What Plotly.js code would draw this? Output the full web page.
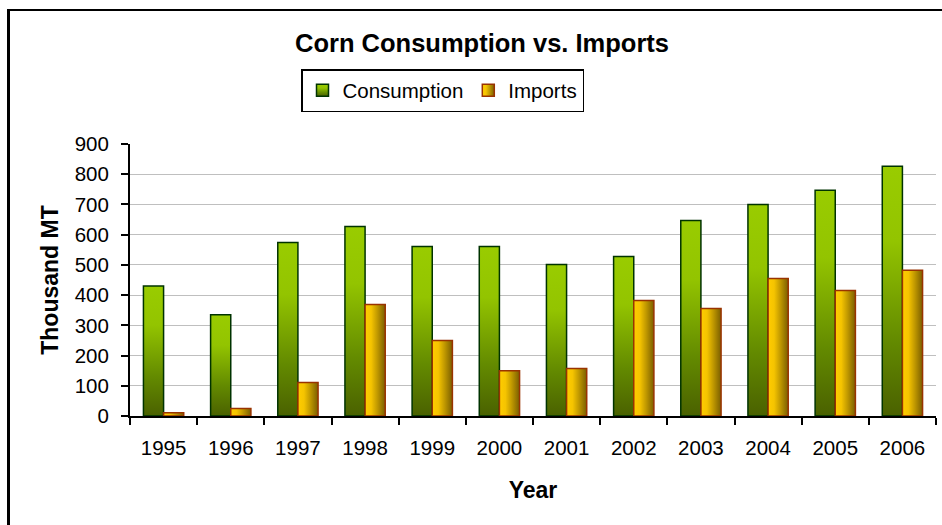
<!DOCTYPE html>
<html>
<head>
<meta charset="utf-8">
<script src="https://cdn.plot.ly/plotly-3.0.1.min.js"></script>
<style>
  html, body { margin: 0; padding: 0; background: #fff; }
  #wrap { position: relative; width: 942px; height: 525px; overflow: hidden; }
  #chart { width: 942px; height: 525px; }
  #frame { position: absolute; left: 7px; top: 9px; width: 1200px; height: 1200px;
           border-left: 3px solid #000; border-top: 2.5px solid #000; pointer-events: none; }
</style>
</head>
<body>
<div id="wrap">
  <div id="chart"></div>
  <div id="frame"></div>
</div>
<script>
const years = ["1995","1996","1997","1998","1999","2000","2001","2002","2003","2004","2005","2006"];
const consumption = [430, 335, 574, 627, 561, 561, 501, 528, 647, 700, 747, 826];
const imports = [11, 25, 111, 369, 250, 150, 157, 382, 356, 455, 415, 482];
const yTicks = [0, 100, 200, 300, 400, 500, 600, 700, 800, 900];

const FONT = "Liberation Sans, Arial, Helvetica, sans-serif";

const traces = [
  {
    type: "bar", name: "Consumption", x: years, y: consumption,
    marker: { color: "#7aa300", line: { color: "#003300", width: 1.5 } },
    hoverinfo: "x+y"
  },
  {
    type: "bar", name: "Imports", x: years, y: imports,
    marker: { color: "#d4a800", line: { color: "#993300", width: 1.5 } },
    hoverinfo: "x+y"
  }
];

const layout = {
  width: 942, height: 525,
  paper_bgcolor: "#fff", plot_bgcolor: "#fff",
  margin: { l: 130, r: 6, t: 144, b: 109, pad: 0 },
  font: { family: FONT, color: "#000", size: 20.5 },
  barmode: "group", bargap: 0.4, bargroupgap: 0,
  showlegend: true,
  title: {
    text: "<b>Corn Consumption vs. Imports</b>",
    font: { family: FONT, size: 25.5, color: "#000" },
    xref: "container", yref: "container",
    x: 482 / 942, xanchor: "center",
    y: 1 - 43 / 525, yanchor: "middle"
  },
  legend: {
    orientation: "h",
    xref: "container", yref: "container",
    x: 301 / 942, xanchor: "left",
    y: 1 - 69 / 525, yanchor: "top",
    bordercolor: "#000", borderwidth: 1.5, bgcolor: "#fff",
    font: { family: FONT, size: 20.5, color: "#000" },
    itemclick: false, itemdoubleclick: false
  },
  xaxis: {
    type: "category",
    showline: true, linecolor: "#000", linewidth: 2,
    ticks: "outside", tickson: "boundaries", ticklen: 7, tickwidth: 2, tickcolor: "#000",
    ticklabelstandoff: 12,
    showgrid: false, zeroline: false,
    tickfont: { family: FONT, size: 20.5, color: "#000" },
    title: { text: "<b>Year</b>", font: { family: FONT, size: 23, color: "#000" }, standoff: 24 }
  },
  yaxis: {
    range: [0, 900], tickvals: yTicks, ticktext: yTicks.map(String),
    showline: true, linecolor: "#000", linewidth: 2,
    ticks: "outside", ticklen: 7, tickwidth: 2, tickcolor: "#000",
    ticklabelstandoff: 8,
    showgrid: true, gridcolor: "#bfbfbf", gridwidth: 1,
    zeroline: false,
    tickfont: { family: FONT, size: 20.5, color: "#000" },
    title: { text: "<b>Thousand MT</b>", font: { family: FONT, size: 23, color: "#000" }, standoff: 10 }
  }
};

function applyGradients(gd) {
  const svg = gd.querySelector("svg.main-svg");
  if (!svg) return;
  const NS = "http://www.w3.org/2000/svg";
  let defs = svg.querySelector("defs#customgrad");
  if (!defs) {
    defs = document.createElementNS(NS, "defs");
    defs.setAttribute("id", "customgrad");
    defs.innerHTML =
      '<linearGradient id="gCons" x1="0" y1="0" x2="0" y2="1">' +
        '<stop offset="0" stop-color="#99cc00"/>' +
        '<stop offset="0.3" stop-color="#93c400"/>' +
        '<stop offset="0.7" stop-color="#638a00"/>' +
        '<stop offset="1" stop-color="#4a6100"/>' +
      '</linearGradient>' +
      '<linearGradient id="gImp" x1="0" y1="0" x2="1" y2="0">' +
        '<stop offset="0" stop-color="#ffcc00"/>' +
        '<stop offset="0.3" stop-color="#f5c400"/>' +
        '<stop offset="0.6" stop-color="#c29a00"/>' +
        '<stop offset="1" stop-color="#7a5e00"/>' +
      '</linearGradient>';
    svg.insertBefore(defs, svg.firstChild);
  }
  const ids = ["gCons", "gImp"];
  gd.querySelectorAll(".barlayer .trace").forEach((t, i) => {
    t.querySelectorAll("path").forEach(p => { p.style.fill = "url(#" + ids[i] + ")"; });
  });
  gd.querySelectorAll(".legend .traces").forEach((t, i) => {
    t.querySelectorAll(".legendpoints path").forEach(p => { p.style.fill = "url(#" + ids[i] + ")"; });
  });
}

const gd = document.getElementById("chart");
Plotly.newPlot(gd, traces, layout, { displayModeBar: false }).then(() => {
  applyGradients(gd);
  gd.on("plotly_afterplot", () => applyGradients(gd));
});
</script>
</body>
</html>
